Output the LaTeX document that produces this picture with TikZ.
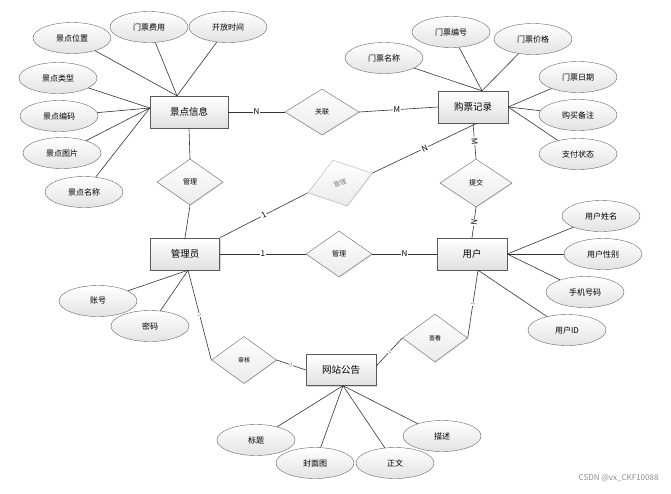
\documentclass[tikz,border=0pt]{standalone}
\usepackage{fontspec}
\setmainfont{Noto Sans CJK SC}
\usepackage{xcolor}
\usepackage{tikz}
\usetikzlibrary{shapes.geometric, calc, shadows}

\begin{document}
\begin{tikzpicture}[x=1pt, y=-1pt]
        % Styles
        \tikzset{
            entityblock/.style={draw=black!65, top color=white, bottom color=black!12, rectangle, minimum width=70pt, minimum height=32pt, inner sep=0pt, font=\fontsize{9.5}{10}\selectfont, drop shadow={shadow xshift=1.2pt, shadow yshift=-1.2pt, opacity=0.3}},
            attrblock/.style={draw=black!60, top color=white, bottom color=black!11, ellipse, minimum width=78pt, minimum height=31pt, inner sep=0pt, font=\fontsize{8}{9}\selectfont},
            relblock/.style={draw=black!60, top color=white, bottom color=black!8, diamond, minimum width=66pt, minimum height=46pt, inner sep=0pt, font=\fontsize{7}{8}\selectfont, drop shadow={shadow xshift=0.8pt, shadow yshift=-0.8pt, opacity=0.2}},
            link/.style={draw=black!80, line width=0.6pt},
            card/.style={fill=white, inner sep=0.8pt, font=\fontsize{8}{8}\selectfont},
            cardsmall/.style={fill=white, inner sep=0.5pt, text=black!55, font=\fontsize{5}{5}\selectfont, sloped}
        }
        \useasboundingbox (0,0) rectangle (671,493);

        % Entities
        \node [entityblock, minimum width=78pt] (jd) at (189,112) {景点信息};
        \node [entityblock] (gp) at (473,107) {购票记录};
        \node [entityblock, minimum width=69pt] (gly) at (185,254) {管理员};
        \node [entityblock] (yh) at (472,254) {用户};
        \node [entityblock, minimum height=31pt] (gg) at (341,370) {网站公告};

        % Relations
        \node [relblock, minimum width=74pt] (gl) at (322,112) {关联};
        \node [relblock] (gl1) at (190,182) {管理};
        \node [relblock, rotate=17, draw=black!30, text=black!50, minimum width=67pt, minimum height=48pt, font=\fontsize{6.5}{7}\selectfont] (gl2) at (340,183) {管理};
        \node [relblock] (gl3) at (339,254) {管理};
        \node [relblock, minimum width=72pt, minimum height=48pt] (tj) at (476,183) {提交};
        \node [relblock, minimum width=65pt, minimum height=47pt, font=\fontsize{6}{7}\selectfont] (sh) at (244,360) {审核};
        \node [relblock, minimum width=65pt, minimum height=48pt, font=\fontsize{6}{7}\selectfont] (ck) at (435,338) {查看};

        % Attributes
        \node [attrblock] (a1) at (72,38) {景点位置};
        \node [attrblock] (a2) at (149,27) {门票费用};
        \node [attrblock] (a3) at (228,27) {开放时间};
        \node [attrblock] (a4) at (58,78) {景点类型};
        \node [attrblock] (a5) at (59,116) {景点编码};
        \node [attrblock] (a6) at (62,153) {景点图片};
        \node [attrblock] (a7) at (84,192) {景点名称};
        \node [attrblock] (b1) at (384,58) {门票名称};
        \node [attrblock] (b2) at (451,32) {门票编号};
        \node [attrblock] (b3) at (533,39) {门票价格};
        \node [attrblock] (b4) at (578,77) {门票日期};
        \node [attrblock] (b5) at (578,115) {购买备注};
        \node [attrblock] (b6) at (578,154) {支付状态};
        \node [attrblock] (c1) at (601,216) {用户姓名};
        \node [attrblock] (c2) at (603,254) {用户性别};
        \node [attrblock] (c3) at (585,292) {手机号码};
        \node [attrblock] (c4) at (567,330) {用户ID};
        \node [attrblock] (d1) at (98,301) {账号};
        \node [attrblock] (d2) at (150,326) {密码};
        \node [attrblock] (e1) at (256,440) {标题};
        \node [attrblock] (e2) at (315,463) {封面图};
        \node [attrblock] (e3) at (395,463) {正文};
        \node [attrblock] (e4) at (442,436) {描述};

        % Join points
        \coordinate (jdT) at ([xshift=-12pt]jd.north);
        \coordinate (jdL) at ([yshift=4pt]jd.west);
        \coordinate (gpT) at ([xshift=9pt]gp.north);
        \coordinate (gpB) at ([xshift=4pt]gp.south);
        \coordinate (yhB) at ([xshift=6pt]yh.south);
        \coordinate (glyB) at ([xshift=3pt]gly.south);
        \coordinate (ggB) at ([xshift=2pt]gg.south);
        \coordinate (ggR) at ([yshift=4pt]gg.east);

        % Attribute lines
        \foreach \a in {a1, a2, a3} \draw [link] (\a) -- (jdT);
        \foreach \a in {a4, a5, a6, a7} \draw [link] (\a) -- (jdL);
        \foreach \a in {b1, b2, b3} \draw [link] (\a) -- (gpT);
        \foreach \a in {b4, b5, b6} \draw [link] (\a) -- (gp.east);
        \foreach \a in {c1, c2, c3} \draw [link] (\a) -- (yh.east);
        \draw [link] (c4) -- (yhB);
        \foreach \a in {d1, d2} \draw [link] (\a) -- (glyB);
        \foreach \a in {e1, e2, e3, e4} \draw [link] (\a) -- (ggB);

        % Relation lines
        \draw [link] (jd.east) -- node[card]{N} (gl.west);
        \draw [link] (gl.east) -- node[card, pos=0.48]{M} (gp.west);
        \draw [link] (jd.south) -- (gl1.north);
        \draw [link] (gl1.south) -- (gly.north);
        \draw [link] (gly.north east) -- node[card, sloped]{1} (gl2.west);
        \draw [link] (gl2.east) -- node[card, sloped]{N} (gpB);
        \draw [link] (gp.south) -- node[card, sloped]{M} (tj.north);
        \draw [link] (tj.south) -- node[card, sloped]{N} (yh.north);
        \draw [link] (gly.east) -- node[card]{1} (gl3.west);
        \draw [link] (gl3.east) -- node[card]{N} (yh.west);
        \draw [link] (glyB) -- node[cardsmall]{1} (sh.west);
        \draw [link] (sh.east) -- node[cardsmall]{1} (gg.west);
        \draw [link] (ggR) -- node[cardsmall]{1} (ck.west);
        \draw [link] (ck.east) -- node[cardsmall]{1} (yhB);

        \node [font=\fontsize{8}{8}\selectfont, text=black!45, anchor=east] (wm) at (662,478) {CSDN @vx\_CKF10088};
    \end{tikzpicture}
\end{document}
